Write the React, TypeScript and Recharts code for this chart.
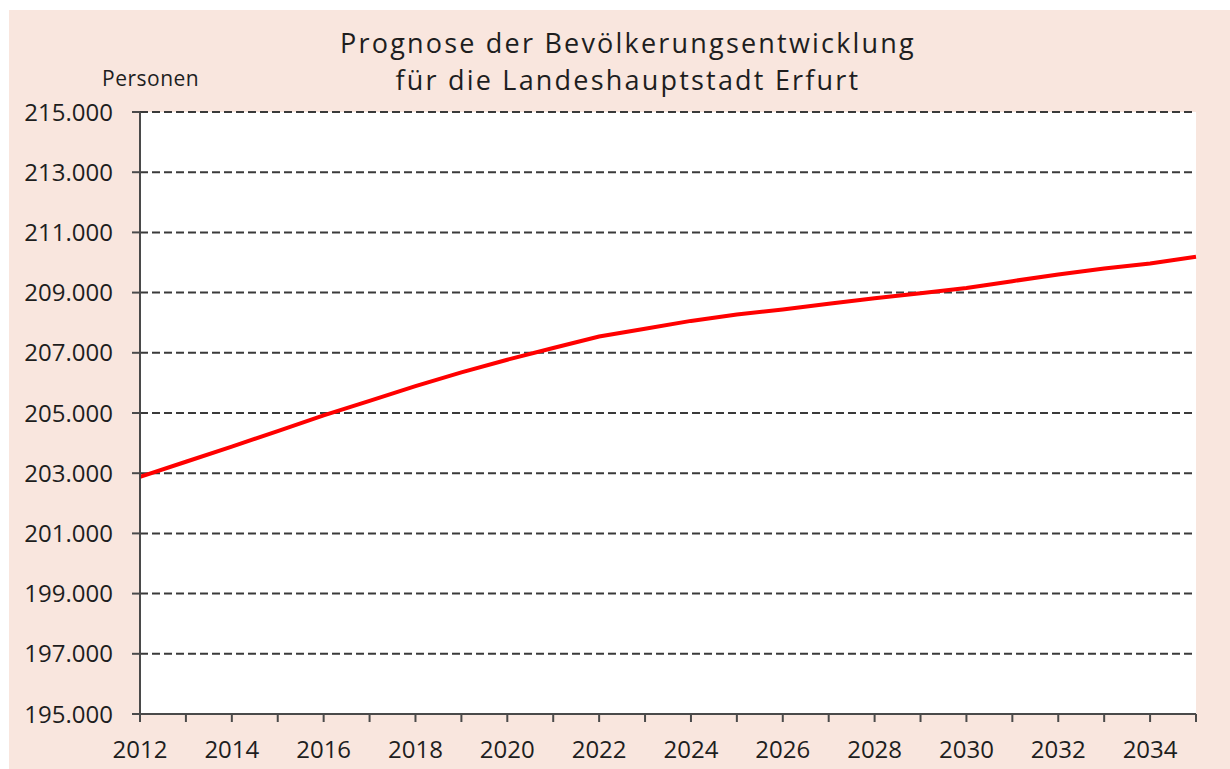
import { LineChart, Line, XAxis, YAxis, CartesianGrid } from "recharts";

const years = [
  2012, 2013, 2014, 2015, 2016, 2017, 2018, 2019, 2020, 2021, 2022, 2023,
  2024, 2025, 2026, 2027, 2028, 2029, 2030, 2031, 2032, 2033, 2034, 2035,
];

const population = [
  202880, 203380, 203880, 204400, 204920, 205400, 205890, 206350, 206770,
  207160, 207540, 207800, 208060, 208270, 208440, 208630, 208810, 208980,
  209150, 209380, 209600, 209800, 209970, 210190,
];

const yTicks = [
  195000, 197000, 199000, 201000, 203000, 205000, 207000, 209000, 211000,
  213000, 215000,
];

const titleLines = [
  "Prognose der Bevölkerungsentwicklung",
  "für die Landeshauptstadt Erfurt",
];

const data = years.map((year, i) => ({ year, value: population[i] }));

const FONT = "'Open Sans', 'DejaVu Sans', sans-serif";
const TEXT = "#1e1e1e";
const AXIS = "#4a4a4a";

// 215000 -> "215.000"
const formatThousands = (v: number) =>
  String(v).replace(/\B(?=(\d{3})+(?!\d))/g, ".");

export default function App() {
  return (
    <div
      style={{
        position: "absolute",
        left: 0,
        top: 0,
        width: 1230,
        height: 769,
        background: "#fff",
        fontFamily: FONT,
        overflow: "hidden",
      }}
    >
      <div
        style={{
          position: "absolute",
          left: 9,
          top: 10,
          width: 1221,
          height: 759,
          background: "#f9e6de",
        }}
      />
      <div
        style={{
          position: "absolute",
          left: 0,
          top: 24,
          width: 1256,
          textAlign: "center",
          fontSize: 27,
          lineHeight: "37px",
          letterSpacing: 2.2,
          color: TEXT,
        }}
      >
        {titleLines.map((t) => (
          <div key={t}>{t}</div>
        ))}
      </div>
      <div
        style={{
          position: "absolute",
          left: 102,
          top: 64,
          fontSize: 21,
          letterSpacing: 0.5,
          color: TEXT,
        }}
      >
        Personen
      </div>
      <div style={{ position: "absolute", left: 0, top: 0 }}>
        <LineChart
          width={1230}
          height={769}
          data={data}
          margin={{ top: 112, right: 34, left: 0, bottom: 0 }}
        >
          <CartesianGrid
            vertical={false}
            fill="#ffffff"
            stroke="#3a3a3a"
            strokeWidth={2}
            strokeDasharray="8 4"
          />
          <XAxis
            dataKey="year"
            type="number"
            domain={[2012, 2035]}
            ticks={years}
            interval={0}
            height={55}
            tickSize={8}
            tickMargin={19}
            tickFormatter={(v: number) => (v % 2 === 0 ? String(v) : "")}
            axisLine={{ stroke: AXIS, strokeWidth: 2 }}
            tickLine={{ stroke: AXIS, strokeWidth: 2 }}
            tick={{ fill: TEXT, fontSize: 24, fontFamily: FONT }}
          />
          <YAxis
            type="number"
            domain={[195000, 215000]}
            ticks={yTicks}
            interval={0}
            width={140}
            tickSize={8}
            tickMargin={19}
            tickFormatter={formatThousands}
            axisLine={{ stroke: AXIS, strokeWidth: 2 }}
            tickLine={{ stroke: AXIS, strokeWidth: 2 }}
            tick={{ fill: TEXT, fontSize: 24, fontFamily: FONT }}
          />
          <Line
            type="linear"
            dataKey="value"
            stroke="#ff0000"
            strokeWidth={4}
            dot={false}
            isAnimationActive={false}
          />
        </LineChart>
      </div>
    </div>
  );
}
